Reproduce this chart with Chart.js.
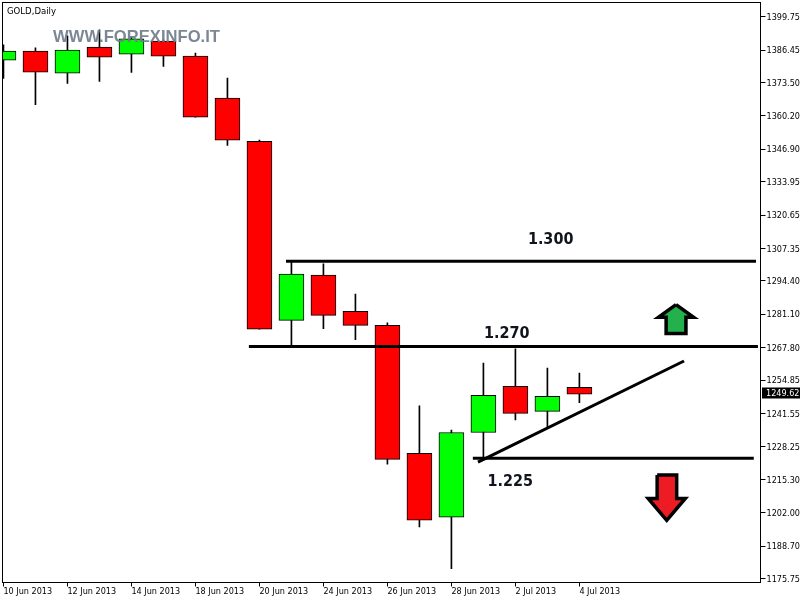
<!DOCTYPE html>
<html><head><meta charset="utf-8">
<style>html,body{margin:0;padding:0;background:#fff}#w{width:803px;height:600px}canvas{display:block}</style>
<script src="https://cdn.jsdelivr.net/npm/chart.js@4"></script></head>
<body><div id="w"><canvas id="c" width="803" height="600"></canvas></div>
<script>
const dateLabels=["10 Jun 2013","11 Jun 2013","12 Jun 2013","13 Jun 2013","14 Jun 2013","17 Jun 2013","18 Jun 2013","19 Jun 2013","20 Jun 2013","21 Jun 2013","24 Jun 2013","25 Jun 2013","26 Jun 2013","27 Jun 2013","28 Jun 2013","1 Jul 2013","2 Jul 2013","3 Jul 2013","4 Jul 2013"];
const opens =[1382.4,1386.0,1377.2,1387.6,1384.8,1390.0,1384.0,1367.3,1350.1,1278.7,1296.7,1282.3,1276.7,1225.7,1200.2,1234.0,1252.4,1242.4,1252.0];
const closes=[1386.0,1377.6,1386.4,1383.6,1390.9,1384.0,1359.7,1350.5,1275.2,1297.1,1280.7,1276.7,1223.3,1199.0,1234.0,1248.8,1241.6,1248.4,1249.3];
const highs =[1388.5,1387.3,1392.1,1394.5,1391.7,1390.5,1385.2,1375.3,1350.6,1302.0,1301.2,1289.2,1277.7,1244.6,1235.0,1261.7,1267.3,1259.7,1257.7];
const lows  =[1375.1,1364.7,1373.1,1373.9,1377.5,1379.9,1359.7,1348.4,1275.2,1268.5,1275.4,1271.0,1221.4,1196.4,1179.7,1223.0,1239.0,1235.8,1245.9];
const yTicks=[1399.75,1386.45,1373.50,1360.20,1346.90,1333.95,1320.65,1307.35,1294.40,1281.10,1267.80,1254.85,1241.55,1228.25,1215.30,1202.00,1188.70,1175.75];
const level1300=[{x:8.83,y:1302.3},{x:23.52,y:1302.3}];
const level1270=[{x:7.67,y:1268.3},{x:23.58,y:1268.3}];
const level1225=[{x:14.67,y:1223.7},{x:23.45,y:1223.7}];
const trendLine=[{x:14.83,y:1222.2},{x:21.27,y:1262.5}];
const arrowUp=[{x:21.02,y:1285.0},{x:21.57,y:1279.9},{x:21.33,y:1279.9},{x:21.33,y:1273.5},{x:20.71,y:1273.5},{x:20.71,y:1279.9},{x:20.47,y:1279.9},{x:21.02,y:1285.0}];
const arrowDown=[{x:20.43,y:1217.05},{x:21.04,y:1217.05},{x:21.04,y:1207.7},{x:21.31,y:1207.7},{x:20.73,y:1199.0},{x:20.15,y:1207.7},{x:20.43,y:1207.7},{x:20.43,y:1217.05}];
const levelTexts=[{t:"1.300",x:16.39,y:1309.15},{t:"1.270",x:15.02,y:1271.7},{t:"1.225",x:15.13,y:1212.65}];
const watermark={t:"WWW.FOREXINFO.IT",x:1.55,y:1389.7};
const symbolTitle="GOLD,Daily";
const lastPrice=1249.62;
const xMin=-0.03,xMax=23.66,yMin=1174.2,yMax=1405.4;

const AXF='"DejaVu Sans Condensed","DejaVu Sans"';
const wicks=dateLabels.map((_,i)=>({x:i,y:[lows[i],highs[i]]}));
const bodies=dateLabels.map((_,i)=>({x:i,y:[Math.min(opens[i],closes[i]),Math.max(opens[i],closes[i])]}));
const bodyColors=dateLabels.map((_,i)=>closes[i]>=opens[i]?'#00ff00':'#ff0000');
const line=(data,w)=>({type:'line',data,borderColor:'#000',borderWidth:w,pointRadius:0,fill:false,tension:0,order:0});
const arrow=(data,c)=>({type:'line',data,borderColor:'#000',backgroundColor:c,borderWidth:3.5,pointRadius:0,fill:'shape',tension:0,order:0,borderJoinStyle:'miter'});

const overlay={id:'overlay',afterDraw(ch){
 const g=ch.ctx,a=ch.chartArea,X=ch.scales.x,Y=ch.scales.y;
 g.save();
 g.strokeStyle='#000';g.lineWidth=1;
 g.strokeRect(a.left,a.top,a.right-a.left,a.bottom-a.top);
 g.textBaseline='alphabetic';g.textAlign='left';
 g.font='bold 16.6px "Liberation Sans"';g.fillStyle='rgba(110,122,138,0.9)';
 g.fillText(watermark.t,X.getPixelForValue(watermark.x),Y.getPixelForValue(watermark.y));
 g.font='bold 16px '+AXF;g.fillStyle='#10141c';
 levelTexts.forEach(o=>g.fillText(o.t,X.getPixelForValue(o.x),Y.getPixelForValue(o.y)));
 g.font='9.5px '+AXF;g.fillStyle='#000';
 g.fillText(symbolTitle,a.left+4.5,a.top+11);
 const py=Math.round(Y.getPixelForValue(lastPrice));
 g.fillStyle='#000';g.fillRect(a.right+1.5,py-5.5,38,11);
 g.fillStyle='#fff';g.font='9px '+AXF;g.textBaseline='middle';
 g.fillText(lastPrice.toFixed(2),a.right+5.5,py+0.7);
 g.restore();
}};

new Chart(document.getElementById('c'),{
 type:'bar',
 data:{datasets:[
  line(level1300,3),line(level1270,3),line(level1225,3),line(trendLine,3),
  arrow(arrowUp,'#22b14c'),arrow(arrowDown,'#ed1c24'),
  {label:'body',data:bodies,backgroundColor:bodyColors,borderColor:'#000',borderWidth:1,borderSkipped:false,barThickness:25,grouped:false,order:1},
  {label:'wick',data:wicks,backgroundColor:'#000',borderWidth:0,barThickness:1,grouped:false,order:2}
 ]},
 options:{
  responsive:false,animation:false,devicePixelRatio:1,
  layout:{padding:{left:2.5,top:2.5,right:0,bottom:0}},
  plugins:{legend:{display:false},tooltip:{enabled:false},title:{display:false}},
  scales:{
   x:{type:'linear',offset:false,min:xMin,max:xMax,
    afterFit(s){s.height=17.5;s.paddingLeft=0;s.paddingRight=0;s.paddingTop=0;s.paddingBottom=0},
    afterBuildTicks(s){s.ticks=dateLabels.map((_,i)=>({value:i})).filter(o=>o.value%2===0)},
    grid:{drawOnChartArea:false,offset:false,tickLength:4,tickColor:'#000',tickWidth:1},
    border:{display:true,color:'#000'},
    ticks:{autoSkip:false,maxRotation:0,minRotation:0,align:'start',padding:0,color:'#000',font:{family:AXF,size:9},callback:v=>dateLabels[v]}
   },
   y:{type:'linear',position:'right',min:yMin,max:yMax,
    afterFit(s){s.width=42.5;s.paddingTop=0;s.paddingBottom=0;s.paddingLeft=0;s.paddingRight=0},
    afterBuildTicks(s){s.ticks=yTicks.map(v=>({value:v}))},
    grid:{drawOnChartArea:false,tickLength:5,tickColor:'#000',tickWidth:1},
    border:{display:true,color:'#000'},
    ticks:{autoSkip:false,padding:1,labelOffset:0.8,color:'#000',font:{family:AXF,size:9},callback:v=>v.toFixed(2)}
   }
  }
 },
 plugins:[overlay]
});
</script></body></html>
